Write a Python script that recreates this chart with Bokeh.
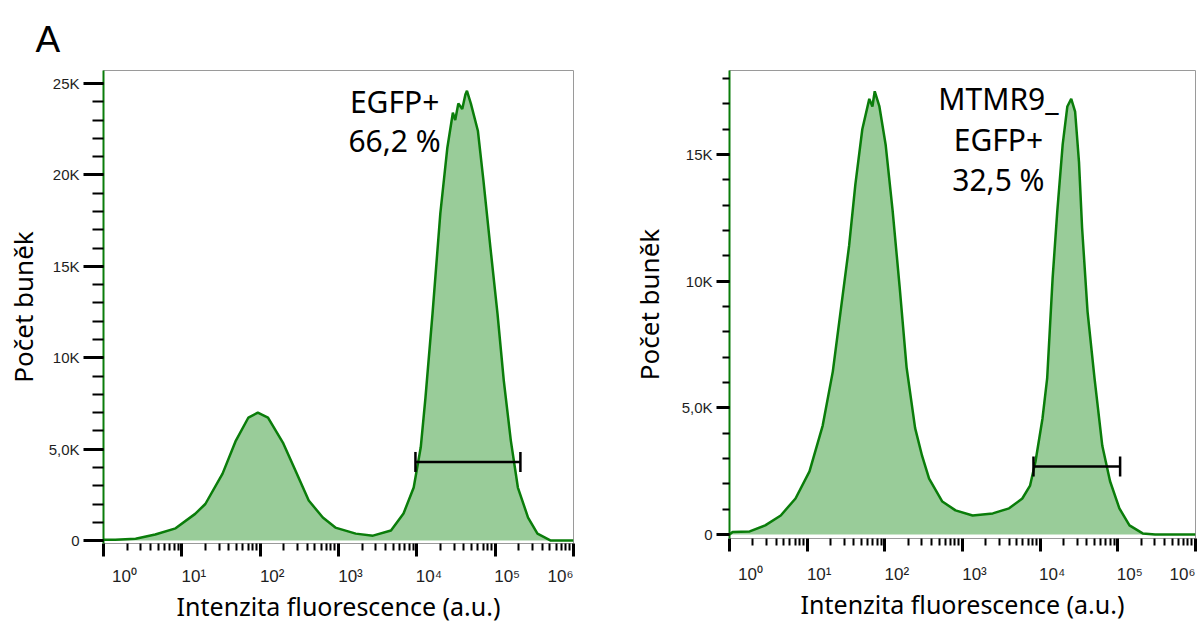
from bokeh.plotting import figure
from bokeh.models import (ColumnDataSource, FixedTicker, Range1d, Label, LogAxis,
                          Whisker, TeeHead)
from bokeh.layouts import row
from bokeh.embed import file_html
from bokeh.resources import INLINE

# ---------------- data ----------------
# x = log10(fluorescence intensity), y = number of cells
LEFT_LOG_X = [0.00, 0.15, 0.41, 0.66, 0.92, 1.17, 1.30, 1.52, 1.69, 1.85,
              1.97, 2.10, 2.29, 2.45, 2.62, 2.80, 2.96, 3.22, 3.44, 3.67,
              3.83, 3.96, 4.05, 4.11, 4.20, 4.30, 4.39, 4.46, 4.49, 4.53,
              4.58, 4.62, 4.64, 4.69, 4.78, 4.85, 4.94, 5.03, 5.11, 5.20,
              5.29, 5.42, 5.54, 5.71, 6.00]
LEFT_COUNTS = [50, 50, 100, 330, 670, 1460, 2000, 3660, 5470, 6730,
               7000, 6730, 5360, 3830, 2190, 1260, 710, 380, 270, 550,
               1480, 2900, 5100, 7800, 12400, 17900, 21500, 23400, 23000, 23900,
               23600, 24400, 24600, 23900, 22400, 19700, 16000, 12400, 8750, 5470,
               2900, 1260, 380, 0, 0]

RIGHT_LOG_X = [0.00, 0.04, 0.26, 0.46, 0.66, 0.85, 1.03, 1.20, 1.33, 1.43,
               1.54, 1.62, 1.71, 1.80, 1.84, 1.87, 1.93, 2.01, 2.10, 2.19,
               2.28, 2.39, 2.48, 2.57, 2.74, 2.91, 3.13, 3.39, 3.60, 3.77,
               3.87, 3.94, 4.03, 4.09, 4.16, 4.22, 4.29, 4.35, 4.40, 4.45,
               4.50, 4.54, 4.61, 4.70, 4.80, 4.90, 5.02, 5.15, 5.32, 5.48,
               6.00]
RIGHT_COUNTS = [0, 100, 120, 360, 750, 1420, 2490, 4300, 6430, 8800,
                11400, 13800, 16000, 17200, 16900, 17500, 16900, 15400, 12800, 9800,
                6600, 4200, 3100, 2200, 1300, 950, 750, 830, 1030, 1420,
                1930, 2880, 4580, 6160, 10100, 12750, 15400, 16900, 17200, 16700,
                14700, 12100, 8800, 6160, 3500, 2100, 1030, 360, 40, 0,
                0]

# gate bars: [low intensity, high intensity, count level]
LEFT_GATE = [9.6e3, 2.1e5, 4300]
RIGHT_GATE = [8.2e3, 1.07e5, 2680]

LEFT_ANNOTATION = ["EGFP+", "66,2 %"]
RIGHT_ANNOTATION = ["MTMR9_", "EGFP+", "32,5 %"]

X_DECADES = [0, 1, 2, 3, 4, 5, 6]
X_TICK_LABELS = ["10\u2070", "10\u00b9", "10\u00b2", "10\u00b3",
                 "10\u2074", "10\u2075", "10\u2076"]
LEFT_Y_TICKS = [0, 5000, 10000, 15000, 20000, 25000]
LEFT_Y_LABELS = ["0", "5,0K", "10K", "15K", "20K", "25K"]
RIGHT_Y_TICKS = [0, 5000, 10000, 15000]
RIGHT_Y_LABELS = ["0", "5,0K", "10K", "15K"]

X_TITLE = "Intenzita fluorescence (a.u.)"
Y_TITLE = "Počet buněk"
PANEL_LETTER = "A"

# ---------------- styles ----------------
FILL = "#99cc99"
LINE = "#0a7d0a"
TEXT_FONT = "Noto Sans"
TICK_FONT = "Liberation Sans"
# horizontal shift (px) of each decade label's centre from its tick, as in the reference
X_LABEL_SHIFT_PX = [21, 12, 12, 12, 12, 12, -13]


def make_panel(log_x, counts, y_lo, y_hi, y_ticks, y_labels, y_minor_top,
               gate, annot, lay):
    p = figure(x_axis_type="log", x_range=Range1d(1, 1e6),
               y_range=Range1d(y_lo, y_hi),
               frame_width=lay["fw"], frame_height=lay["fh"],
               min_border_left=lay["bl"], min_border_right=lay["br"],
               min_border_top=lay["bt"], min_border_bottom=lay["bb"],
               output_backend="svg", toolbar_location=None)
    p.grid.visible = False
    p.outline_line_color = "#9a9a9a"
    p.outline_line_width = 1
    p.background_fill_color = "white"
    p.border_fill_color = "white"

    xs = [10 ** v for v in log_x]
    src = ColumnDataSource(dict(x=xs, y=counts))
    p.varea(x="x", y1=0, y2="y", source=src, fill_color=FILL, fill_alpha=1.0)
    p.line(x="x", y="y", source=src, line_color=LINE, line_width=2.5)

    # gate bar
    gsrc = ColumnDataSource(dict(base=[gate[2]], lower=[gate[0]], upper=[gate[1]]))
    p.add_layout(Whisker(source=gsrc, base="base", lower="lower", upper="upper",
                         dimension="width", line_color="black", line_width=2.5,
                         level="overlay",
                         lower_head=TeeHead(size=20, line_width=2.5, line_color="black"),
                         upper_head=TeeHead(size=20, line_width=2.5, line_color="black")))

    # x axis: tick marks at decades
    x_ticks = [10 ** d for d in X_DECADES]
    xa = p.xaxis[0]
    xa.ticker = FixedTicker(ticks=x_ticks,
                            minor_ticks=[m * 10 ** d for d in X_DECADES[:-1] for m in range(2, 10)])
    xa.major_label_overrides = {t: " " for t in x_ticks}
    xa.major_label_text_font_size = "1px"
    xa.major_label_standoff = 0
    xa.axis_line_color = None
    xa.major_tick_out = lay["xmaj"]
    xa.major_tick_in = 0
    xa.minor_tick_out = lay["xmin"]
    xa.minor_tick_in = 0
    xa.major_tick_line_width = 3
    xa.minor_tick_line_width = 2
    xa.major_tick_line_color = "black"
    xa.minor_tick_line_color = "black"

    # x axis: decade labels (placed like the reference's labels)
    px_per_decade = lay["fw"] / 6.0
    lab_pos = [10 ** (d + s / px_per_decade) for d, s in zip(X_DECADES, X_LABEL_SHIFT_PX)]
    la = LogAxis(ticker=FixedTicker(ticks=lab_pos, minor_ticks=[]),
                 major_label_overrides={t: s for t, s in zip(lab_pos, X_TICK_LABELS)})
    la.axis_line_color = None
    la.major_tick_line_color = None
    la.minor_tick_line_color = None
    la.major_tick_out = 0
    la.major_tick_in = 0
    la.minor_tick_out = 0
    la.minor_tick_in = 0
    la.major_label_text_font = TICK_FONT
    la.major_label_text_font_size = "17px"
    la.major_label_text_color = "#1e1e1e"
    la.major_label_standoff = lay["xlab_standoff"]
    la.axis_label = X_TITLE
    la.axis_label_text_font = TEXT_FONT
    la.axis_label_text_font_size = "25px"
    la.axis_label_text_font_style = "normal"
    la.axis_label_text_color = "black"
    la.axis_label_standoff = 0
    p.add_layout(la, "below")

    # y axis
    ya = p.yaxis[0]
    ya.ticker = FixedTicker(ticks=y_ticks, minor_ticks=list(range(0, y_minor_top + 1, 1000)))
    ya.major_label_overrides = {t: s for t, s in zip(y_ticks, y_labels)}
    ya.major_label_text_font = TICK_FONT
    ya.major_label_text_font_size = "15px"
    ya.major_label_text_color = "#1e1e1e"
    ya.major_label_standoff = 4
    ya.axis_line_color = LINE
    ya.axis_line_width = 2
    ya.major_tick_out = lay["ymaj"]
    ya.major_tick_in = 0
    ya.minor_tick_out = lay["ymin"]
    ya.minor_tick_in = 0
    ya.major_tick_line_width = 3
    ya.minor_tick_line_width = 2
    ya.major_tick_line_color = "black"
    ya.minor_tick_line_color = "black"
    ya.axis_label = Y_TITLE
    ya.axis_label_text_font = TEXT_FONT
    ya.axis_label_text_font_size = "26px"
    ya.axis_label_text_font_style = "normal"
    ya.axis_label_text_color = "black"
    ya.axis_label_standoff = lay["ytitle_standoff"]

    # gate annotation
    for i, line in enumerate(annot):
        p.add_layout(Label(x=lay["an_x"], y=lay["an_y"][i], text=line,
                           text_font=TEXT_FONT, text_font_size="30px",
                           text_color="black", text_align="center",
                           text_baseline="middle"))
    return p


left_lay = dict(fw=470, fh=473, bl=103, br=54, bt=68, bb=74,
                xmaj=13, xmin=7, ymaj=20, ymin=11,
                xlab_standoff=6, ytitle_standoff=5,
                an_x=5200, an_y=[24000, 21900])
right_lay = dict(fw=466, fh=468, bl=100, br=5, bt=70, bb=77,
                 xmaj=13, xmin=7, ymaj=13, ymin=7,
                 xlab_standoff=9, ytitle_standoff=12,
                 an_x=2900, an_y=[17200, 15600, 14030])

left = make_panel(LEFT_LOG_X, LEFT_COUNTS, -160, 25710, LEFT_Y_TICKS, LEFT_Y_LABELS,
                  25000, LEFT_GATE, LEFT_ANNOTATION, left_lay)
right = make_panel(RIGHT_LOG_X, RIGHT_COUNTS, -160, 18320, RIGHT_Y_TICKS, RIGHT_Y_LABELS,
                   18000, RIGHT_GATE, RIGHT_ANNOTATION, right_lay)

left.title.text = PANEL_LETTER
left.title.text_font = "Liberation Sans"
left.title.text_font_size = "37px"
left.title.text_font_style = "normal"
left.title.text_color = "black"
left.title.align = "left"
left.title.offset = -68
left.title.standoff = 22

layout = row(left, right)
open("out.html", "w").write(file_html(layout, INLINE))
